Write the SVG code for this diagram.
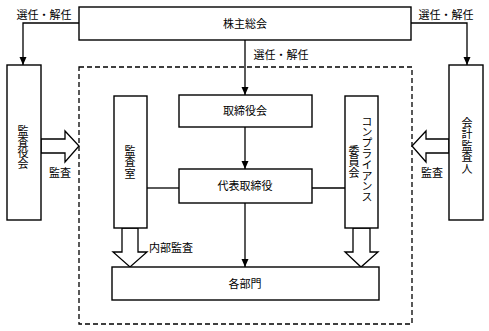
<svg xmlns="http://www.w3.org/2000/svg" width="489" height="331" viewBox="0 0 489 331">
<defs>
<style>
.box{fill:#fff;stroke:#000;stroke-width:1.4}
.ln{fill:none;stroke:#000;stroke-width:1.3}
.blk{fill:#fff;stroke:#000;stroke-width:1.3;stroke-linejoin:miter}
text{font-family:"Noto Sans CJK JP","Noto Sans CJK SC",sans-serif;font-size:11px;fill:#000}
.v{writing-mode:vertical-rl;text-orientation:upright}
</style>
<marker id="ah" markerWidth="8" markerHeight="8" viewBox="0 0 8 8" refX="8" refY="4" orient="auto" markerUnits="userSpaceOnUse">
<path d="M0,0.5 L8,4 L0,7.5 Z" fill="#000"/>
</marker>
</defs>
<rect width="489" height="331" fill="#fff"/>
<rect x="79" y="67" width="333" height="257" fill="none" stroke="#000" stroke-width="1.3" stroke-dasharray="5,3"/>
<g id="connectors">
<path class="ln" d="M79,23 H23 V65" marker-end="url(#ah)"/>
<path class="ln" d="M411,23 H467 V65" marker-end="url(#ah)"/>
<path class="ln" d="M245,40 V95" marker-end="url(#ah)"/>
<path class="ln" d="M245,127 V169" marker-end="url(#ah)"/>
<path class="ln" d="M245,203 V267" marker-end="url(#ah)"/>
<path class="ln" d="M147,188 H179"/>
<path class="ln" d="M312,188 H345"/>
<path class="blk" d="M41,139 H65 V131 L79,146 L65,162 V153 H41 Z"/>
<path class="blk" d="M449,139 H426 V131 L412,146 L426,162 V153 H449 Z"/>
<path class="blk" d="M122,228 V252 H113 L130,267 L147,252 H138 V228 Z"/>
<path class="blk" d="M353,228 V252 H345 L361,267 L378,252 H370 V228 Z"/>
<text x="44" y="19" text-anchor="middle">選任・解任</text>
<text x="446" y="19" text-anchor="middle">選任・解任</text>
<text x="281" y="59" text-anchor="middle">選任・解任</text>
<text x="60" y="177" text-anchor="middle">監査</text>
<text x="432" y="177" text-anchor="middle">監査</text>
<text x="149" y="252">内部監査</text>
</g>
<g id="n-shareholders"><rect class="box" x="79" y="7" width="332" height="33"/><text x="245" y="28" text-anchor="middle">株主総会</text></g>
<g id="n-auditors"><rect class="box" x="7" y="65" width="34" height="155"/><text class="v" x="23" y="125">監査役会</text></g>
<g id="n-accountant"><rect class="box" x="449" y="65" width="34" height="155"/><text class="v" x="467" y="117" letter-spacing="0.5">会計監査人</text></g>
<g id="n-board"><rect class="box" x="179" y="95" width="133" height="32"/><text x="245" y="115" text-anchor="middle">取締役会</text></g>
<g id="n-ceo"><rect class="box" x="179" y="169" width="133" height="34"/><text x="245" y="190" text-anchor="middle">代表取締役</text></g>
<g id="n-audit-office"><rect class="box" x="114" y="96" width="33" height="132"/><text class="v" x="130" y="145" letter-spacing="0.5">監査室</text></g>
<g id="n-compliance"><rect class="box" x="345" y="96" width="33" height="132"/><text class="v" x="367" y="116" letter-spacing="-0.2">コンプライアンス</text><text class="v" x="354" y="145" font-size="10">委員会</text></g>
<g id="n-departments"><rect class="box" x="112" y="267" width="267" height="33"/><text x="245" y="288" text-anchor="middle">各部門</text></g>
</svg>
